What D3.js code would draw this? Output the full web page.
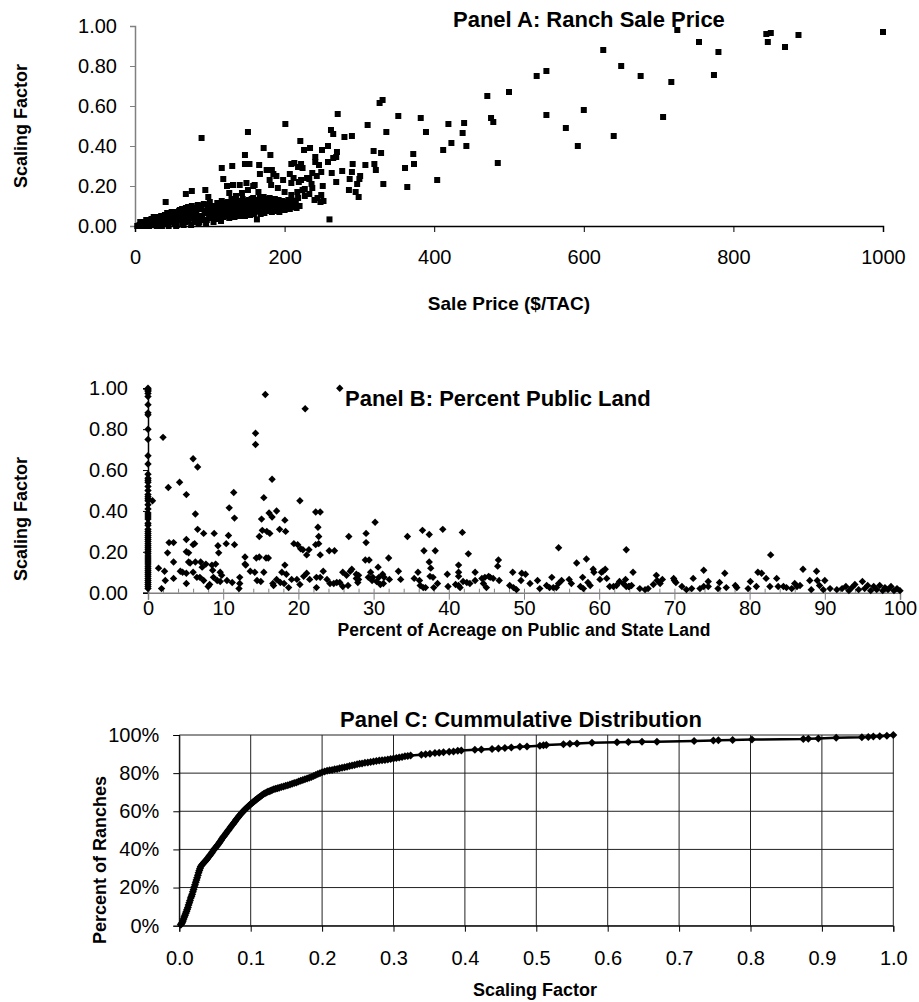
<!DOCTYPE html>
<html>
<head>
<meta charset="utf-8">
<script src="https://cdn.jsdelivr.net/npm/d3@7"></script>
<style>
  body { margin: 0; background: #fff; }
  text { font-family: "Liberation Sans", Arial, sans-serif; fill: #000; }
  .tick text { font-size: 20px; }
  .ttl { font-size: 22px; font-weight: bold; }
  .axt { font-size: 18px; font-weight: bold; }
</style>
</head>
<body>
<div id="chart"></div>
<script>

// Panel A: [sale price $/TAC, scaling factor]
var ranchSale = [
  [3,0.0],[5,0.0],[6,0.005],[8,0.01],[9,0.015],[10,0.005],[11,0.0],[12,0.02],[14,0.01],[15,0.03],[16,0.0],[17,0.01],
  [18,0.025],[19,0.0],[20,0.015],[21,0.005],[22,0.035],[23,0.025],[24,0.005],[25,0.045],[26,0.02],[28,0.04],[30,0.01],
  [32,0.03],[34,0.045],[36,0.0],[38,0.02],[40,0.055],[42,0.035],[44,0.01],[45,0.0],[46,0.06],[48,0.04],[50,0.02],
  [52,0.07],[54,0.05],[55,0.0],[56,0.005],[58,0.03],[60,0.08],[62,0.06],[64,0.015],[65,0.005],[66,0.045],[68,0.09],
  [70,0.07],[72,0.025],[74,0.055],[75,0.005],[76,0.1],[78,0.08],[80,0.035],[82,0.06],[84,0.105],[85,0.01],[86,0.02],
  [88,0.085],[90,0.045],[92,0.11],[94,0.065],[95,0.015],[96,0.03],[98,0.09],[100,0.12],[102,0.05],[104,0.075],
  [105,0.02],[106,0.1],[108,0.035],[110,0.115],[112,0.06],[114,0.085],[115,0.025],[116,0.125],[118,0.045],[120,0.1],
  [122,0.07],[124,0.12],[126,0.04],[128,0.09],[130,0.13],[132,0.055],[134,0.105],[136,0.075],[138,0.125],[140,0.05],
  [142,0.095],[144,0.135],[146,0.065],[148,0.11],[150,0.085],[152,0.13],[154,0.055],[156,0.1],[158,0.14],[160,0.07],
  [162,0.115],[164,0.09],[166,0.13],[168,0.06],[170,0.1],[172,0.145],[174,0.08],[176,0.12],[178,0.095],[180,0.14],
  [183,0.07],[186,0.115],[189,0.09],[192,0.13],[195,0.08],[198,0.11],[201,0.095],[204,0.12],[207,0.085],[210,0.11],
  [7,0.02],[13,0.005],[27,0.03],[29,0.0],[31,0.045],[33,0.015],[35,0.05],[37,0.03],[39,0.01],[41,0.04],[43,0.065],
  [47,0.025],[49,0.07],[51,0.045],[53,0.015],[57,0.06],[59,0.075],[61,0.035],[63,0.085],[67,0.02],[69,0.065],
  [71,0.095],[73,0.04],[77,0.065],[79,0.09],[81,0.02],[83,0.085],[87,0.05],[89,0.1],[91,0.03],[93,0.075],[97,0.105],
  [99,0.06],[101,0.04],[103,0.095],[107,0.065],[109,0.085],[111,0.04],[113,0.1],[117,0.07],[119,0.05],[121,0.115],
  [123,0.09],[127,0.065],[129,0.11],[131,0.08],[133,0.045],[135,0.12],[137,0.095],[139,0.06],[141,0.11],[145,0.08],
  [147,0.05],[149,0.125],[151,0.1],[153,0.07],[155,0.12],[157,0.085],[159,0.06],[161,0.13],[163,0.1],[165,0.075],
  [167,0.12],[169,0.08],[171,0.125],[173,0.065],[175,0.105],[177,0.135],[179,0.075],[181,0.11],[185,0.09],[187,0.135],
  [190,0.075],[194,0.1],[197,0.125],[200,0.08],[203,0.105],[206,0.1],[209,0.13],[213,0.1],[215,0.125],[216,0.09],
  [125,0.08],[116,0.085],[143,0.085],[152,0.08],[160,0.085],[169,0.095],[178,0.10],[188,0.11],[182,0.125],[173,0.12],
  [167,0.145],[156,0.135],[147,0.125],[139,0.12],[129,0.135],[126,0.165],[135,0.15],[143,0.165],[151,0.18],[160,0.205],
  [167,0.26],[183,0.28],[185,0.26],[180,0.23],[189,0.25],[191,0.19],[182,0.205],[198,0.23],[200,0.17],[197,0.10],
  [203,0.115],[209,0.31],[213,0.315],[218,0.295],[207,0.26],[212,0.24],[209,0.215],[219,0.22],[217,0.17],[209,0.155],
  [218,0.14],[227,0.185],[233,0.16],[240,0.13],[248,0.12],[230,0.24],[237,0.265],[246,0.305],
  [89,0.44],[151,0.47],[201,0.51],[172,0.39],[181,0.355],[147,0.355],[147,0.31],[153,0.31],[116,0.29],[130,0.30],
  [166,0.305],[176,0.28],[118,0.235],[94,0.18],[76,0.175],[68,0.16],[41,0.12],[98,0.145],[123,0.20],[131,0.205],
  [140,0.205],[149,0.215],[158,0.20],[165,0.17],[163,0.033],[193,0.07],[205,0.13],[212,0.095],
  [221,0.425],[226,0.38],[234,0.39],[222,0.31],[224,0.29],[222,0.23],[224,0.18],[227,0.15],[220,0.10],[233,0.235],
  [236,0.21],[237,0.19],[241,0.345],[241,0.32],[243,0.25],[244,0.14],[249,0.155],[250,0.38],[251,0.20],[252,0.125],
  [249,0.27],[258,0.40],[258,0.32],[260,0.033],[262,0.48],[265,0.46],[263,0.265],[265,0.34],[269,0.345],[270,0.37],
  [269,0.22],[271,0.56],[277,0.275],[280,0.445],[290,0.45],[287,0.235],[290,0.27],[291,0.31],[286,0.18],[295,0.17],
  [297,0.21],[300,0.235],[299,0.145],[301,0.25],[308,0.305],[311,0.505],[319,0.375],[320,0.31],[322,0.28],[329,0.365],
  [327,0.615],[331,0.63],[332,0.21],[336,0.47],[352,0.55],[361,0.29],[364,0.195],[372,0.36],[373,0.31],[382,0.54],
  [389,0.47],[404,0.23],
  [412,0.38],[419,0.51],[423,0.415],[438,0.465],[440,0.515],[443,0.40],[471,0.65],[476,0.54],[479,0.52],[485,0.315],
  [500,0.67],[537,0.75],[550,0.775],[550,0.555],[576,0.49],[592,0.40],[600,0.58],[626,0.88],[640,0.45],[650,0.80],
  [676,0.75],[706,0.545],[717,0.72],[725,0.98],[754,0.92],[774,0.755],[780,0.87],[844,0.96],[850,0.965],[846,0.92],
  [869,0.895],[887,0.955],[1000,0.97]
];

// Panel B: [percent public land, scaling factor]
var publicLand = [
  [0,1.0],[0,0.995],[0,0.99],[0,0.985],[0,0.975],[0,0.96],[0,0.92],[0,0.88],[0,0.87],[0,0.80],[0,0.75],[0,0.67],
  [0,0.63],[0,0.58],[0,0.56],[0,0.55],[0,0.54],[0,0.52],[0,0.50],[0,0.48],[0,0.47],[0,0.46],[0,0.45],[0,0.43],
  [0,0.41],[0,0.39],[0,0.38],[0,0.37],[0,0.36],[0,0.34],[0,0.33],[0,0.31],[0,0.30],[0,0.29],[0,0.28],[0,0.27],
  [0,0.26],[0,0.25],[0,0.24],[0,0.23],[0,0.22],[0,0.21],[0,0.20],[0,0.19],[0,0.18],[0,0.17],[0,0.16],[0,0.15],
  [0,0.14],[0,0.13],[0,0.12],[0,0.11],[0,0.10],[0,0.09],[0,0.08],[0,0.07],[0,0.06],[0,0.05],[0,0.04],[0,0.03],
  [0,0.02],[0.6,0.45],
  [2.0,0.76],[2.7,0.515],[4.2,0.54],[5.1,0.48],[6.0,0.655],[6.6,0.615],[6.3,0.385],[6.6,0.31],[7.4,0.29],[8.8,0.29],
  [10.8,0.415],[11.4,0.49],[11.5,0.365],[10.7,0.28],[11.5,0.235],[10.4,0.24],[9.3,0.23],[9.4,0.195],[14.3,0.78],
  [14.3,0.725],[15.6,0.97],[16.5,0.555],[15.4,0.465],[15.1,0.36],[16.1,0.39],[17.1,0.40],[16.5,0.37],[15.2,0.305],
  [15.8,0.30],[16.2,0.29],[14.8,0.275],[17.5,0.31],[18.2,0.355],[18.3,0.30],[20.9,0.90],[25.5,1.0],[20.2,0.45],
  [19.4,0.24],[19.9,0.235],[20.3,0.215],[20.6,0.21],[22.3,0.395],[22.9,0.395],[22.6,0.32],[22.7,0.275],[22.7,0.24],
  [22.3,0.235],[22.9,0.185],[24.1,0.205],[24.8,0.205],[26.7,0.275],[21.1,0.185],[21.4,0.21],[2.8,0.245],[3.4,0.245],
  [2.6,0.195],[3.4,0.15],[1.4,0.12],[2.2,0.105],[2.3,0.06],[1.8,0.02],[3.4,0.07],[4.3,0.105],[4.6,0.10],[5.1,0.095],
  [5.1,0.045],[5.1,0.20],[5.4,0.195],[6.0,0.235],[6.2,0.24],[5.1,0.26],[5.4,0.15],[5.6,0.145],[6.3,0.15],[7.0,0.15],
  [7.2,0.125],[6.0,0.10],[6.5,0.075],[6.9,0.075],[7.4,0.06],[8.0,0.03],[8.2,0.04],[7.7,0.14],[8.5,0.135],[9.0,0.14],
  [8.6,0.11],[9.6,0.10],[9.8,0.085],[8.7,0.075],[9.2,0.06],[9.6,0.055],[10.5,0.06],[11.2,0.05],[12.2,0.075],[12.2,0.045],
  [12.1,0.02],[12.9,0.175],[12.9,0.14],[13.0,0.135],[13.6,0.105],[14.2,0.10],[14.4,0.17],[14.8,0.175],[14.5,0.06],
  [15.0,0.055],[15.4,0.10],[15.7,0.17],[16.0,0.17],[16.6,0.045],[16.7,0.035],[17.1,0.065],[17.6,0.05],[17.8,0.10],
  [18.2,0.135],[18.4,0.09],[18.7,0.025],[18.1,0.045],[19.1,0.065],[19.8,0.065],[20.2,0.04],[20.7,0.08],[21.1,0.095],
  [21.5,0.065],[22.4,0.075],[22.9,0.075],[23.3,0.105],[22.4,0.025],[23.8,0.065],[24.2,0.045],[24.7,0.045],[25.1,0.05],
  [25.5,0.05],[25.9,0.1],[26.4,0.085],[26.9,0.105],[25.9,0.03],[26.6,0.035],[27.7,0.07],[27.9,0.05],
  [30.2,0.345],[29.0,0.29],[29.0,0.245],[28.9,0.16],[29.4,0.16],[27.1,0.115],[27.7,0.09],[28.0,0.085],[28.0,0.065],
  [29.6,0.10],[29.9,0.075],[29.3,0.075],[29.8,0.06],[30.6,0.125],[30.7,0.075],[31.2,0.09],[31.4,0.075],[31.3,0.045],
  [30.9,0.04],[30.4,0.055],[32.0,0.17],[32.1,0.065],[33.3,0.105],[33.6,0.065],[34.5,0.275],[35.4,0.07],[35.9,0.1],
  [36.1,0.06],[36.2,0.035],[36.6,0.025],[36.9,0.025],[36.5,0.305],[37.4,0.285],[36.7,0.205],[38.2,0.205],[37.4,0.15],
  [37.6,0.12],[37.5,0.08],[37.9,0.075],[38.0,0.025],[38.5,0.045],[39.2,0.31],[39.8,0.09],[39.9,0.03],[40.9,0.04],
  [41.3,0.035],[41.5,0.025],[41.8,0.295],[42.6,0.19],[41.3,0.135],[41.3,0.1],[41.3,0.08],[41.9,0.055],[42.4,0.05],
  [42.8,0.045],[43.5,0.1],[43.5,0.06],[44.4,0.07],[44.8,0.075],[45.3,0.08],[44.6,0.045],[45.0,0.025],[45.5,0.075],
  [45.9,0.07],[46.6,0.16],[46.5,0.13],[46.7,0.06],[48.5,0.10],[48.1,0.035],[48.6,0.025],[49.0,0.015],[49.7,0.095],
  [50.2,0.09],[49.6,0.06],[50.8,0.045],[51.8,0.06],[52.1,0.02],[53.0,0.035],[53.4,0.025],[53.9,0.025],[54.3,0.025],
  [53.7,0.075],[54.6,0.045],[55.0,0.06],[54.6,0.22],[56.0,0.065],[56.3,0.045],[57.0,0.145],[57.5,0.03],[57.9,0.02],
  [58.3,0.165],[57.8,0.075],[58.5,0.05],[58.8,0.035],[59.2,0.115],[59.3,0.1],[60.1,0.065],[60.3,0.10],[60.5,0.105],
  [60.8,0.115],[61.0,0.07],[61.4,0.03],[61.9,0.03],[62.3,0.035],[62.7,0.055],[63.2,0.045],[63.6,0.03],[64.0,0.03],
  [63.6,0.21],[63.5,0.065],[63.9,0.03],[64.3,0.035],[64.5,0.10],[65.4,0.02],[66.1,0.015],[66.5,0.02],[67.2,0.04],
  [67.6,0.085],[67.7,0.06],[68.1,0.045],[68.4,0.065],[69.9,0.07],[70.2,0.05],[70.0,0.06],[71.0,0.03],[71.6,0.015],
  [72.5,0.07],[72.3,0.02],[73.4,0.02],[73.9,0.03],[73.9,0.11],[74.5,0.055],[74.5,0.03],[75.8,0.02],[76.0,0.05],
  [76.9,0.025],[76.7,0.095],[78.1,0.035],[78.3,0.025],[80.1,0.055],[79.8,0.02],[80.9,0.03],[81.1,0.1],[81.6,0.095],
  [82.2,0.07],[82.7,0.03],[82.8,0.185],[83.6,0.07],[83.8,0.03],[84.5,0.03],[84.9,0.025],[85.6,0.02],[86.0,0.045],
  [86.3,0.03],[86.7,0.035],[87.1,0.115],[88.0,0.06],[88.2,0.015],[88.9,0.105],[89.0,0.06],[89.3,0.035],[90.0,0.06],
  [89.8,0.015],[90.7,0.02],[91.6,0.015],[92.3,0.02],[92.8,0.03],[93.2,0.01],[93.6,0.025],[94.0,0.04],[94.5,0.015],
  [95.0,0.055],[95.3,0.02],[95.7,0.035],[96.1,0.01],[96.5,0.03],[96.9,0.015],[97.3,0.035],[97.7,0.01],[98.0,0.025],
  [98.4,0.015],[98.8,0.03],[99.2,0.01],[99.6,0.02],[100,0.01]
];

// Panel C: [scaling factor, share of ranches]
var cumDist = [
  [0.002,0.005],[0.003,0.01],[0.004,0.015],[0.005,0.025],[0.006,0.035],[0.007,0.045],[0.008,0.055],[0.009,0.065],
  [0.010,0.075],[0.011,0.085],[0.012,0.095],[0.013,0.108],[0.014,0.12],[0.015,0.132],[0.016,0.145],[0.017,0.155],
  [0.018,0.165],[0.019,0.178],[0.020,0.19],[0.021,0.203],[0.022,0.215],[0.023,0.228],[0.024,0.24],[0.025,0.252],
  [0.026,0.265],[0.027,0.278],[0.028,0.29],[0.029,0.30],[0.030,0.31],[0.0315,0.318],[0.033,0.325],[0.0345,0.331],
  [0.036,0.337],[0.0375,0.343],[0.039,0.35],[0.0405,0.357],[0.042,0.365],[0.0435,0.372],[0.045,0.38],[0.0465,0.388],
  [0.048,0.397],[0.0495,0.403],[0.051,0.41],[0.0525,0.418],[0.054,0.425],[0.0555,0.432],[0.057,0.44],[0.0585,0.448],
  [0.060,0.457],[0.0615,0.465],[0.063,0.472],[0.0645,0.48],[0.066,0.487],[0.0675,0.495],[0.069,0.502],[0.0705,0.51],
  [0.072,0.517],[0.0735,0.525],[0.075,0.532],[0.0765,0.54],[0.078,0.547],[0.0795,0.555],[0.081,0.562],[0.0825,0.569],
  [0.084,0.576],[0.0855,0.583],[0.087,0.59],[0.0885,0.596],[0.090,0.602],[0.0915,0.608],[0.093,0.613],[0.0945,0.619],
  [0.096,0.624],[0.0975,0.629],[0.099,0.634],[0.1005,0.639],[0.102,0.644],[0.1035,0.649],[0.105,0.653],[0.1065,0.658],
  [0.108,0.662],[0.1095,0.667],[0.111,0.671],[0.1125,0.675],[0.114,0.679],[0.116,0.685],[0.118,0.69],[0.120,0.694],
  [0.122,0.698],[0.124,0.702],[0.126,0.705],[0.128,0.708],[0.130,0.711],[0.1325,0.715],[0.135,0.718],[0.1375,0.721],
  [0.140,0.724],[0.143,0.727],[0.146,0.73],[0.149,0.734],[0.152,0.737],[0.155,0.741],[0.158,0.744],[0.161,0.748],
  [0.164,0.751],[0.167,0.756],[0.170,0.76],[0.173,0.764],[0.176,0.768],[0.179,0.772],[0.182,0.776],[0.185,0.78],
  [0.188,0.785],[0.191,0.79],[0.194,0.795],[0.197,0.8],[0.200,0.805],[0.2035,0.809],[0.207,0.812],[0.2105,0.815],
  [0.214,0.817],[0.2175,0.82],[0.221,0.822],[0.2245,0.825],[0.228,0.828],[0.2315,0.831],[0.235,0.834],[0.2385,0.837],
  [0.242,0.84],[0.2455,0.843],[0.249,0.846],[0.2525,0.849],[0.256,0.851],[0.260,0.854],[0.264,0.856],[0.268,0.859],
  [0.272,0.861],[0.276,0.864],[0.280,0.866],[0.284,0.868],[0.288,0.869],[0.292,0.872],[0.296,0.874],[0.300,0.877],
  [0.304,0.879],[0.308,0.882],[0.312,0.885],[0.316,0.888],[0.320,0.89],[0.324,0.892],
  [0.339,0.897],[0.345,0.899],[0.351,0.902],[0.358,0.905],
  [0.364,0.907],[0.370,0.909],[0.378,0.912],[0.384,0.914],[0.390,0.917],[0.395,0.919],[0.414,0.923],[0.423,0.924],
  [0.438,0.927],[0.447,0.929],[0.456,0.932],[0.465,0.935],[0.477,0.938],[0.487,0.94],[0.505,0.944],[0.510,0.946],
  [0.514,0.948],[0.538,0.952],[0.547,0.954],[0.557,0.956],[0.578,0.959],[0.613,0.962],[0.629,0.963],[0.648,0.964],
  [0.669,0.965],[0.721,0.969],[0.748,0.971],[0.755,0.972],[0.775,0.974],[0.802,0.976],[0.874,0.979],[0.881,0.98],
  [0.895,0.982],[0.920,0.985],[0.956,0.988],[0.965,0.99],[0.972,0.992],[0.981,0.994],[0.991,0.996],[1.0,1.0]
];

var ticksA_x = [0, 200, 400, 600, 800, 1000];
var ticksFactor = [0, 0.2, 0.4, 0.6, 0.8, 1.0];
var ticksB_x = [0, 10, 20, 30, 40, 50, 60, 70, 80, 90, 100];
var ticksB_minor = d3.range(0, 101, 2);
var ticksC_x = [0, 0.1, 0.2, 0.3, 0.4, 0.5, 0.6, 0.7, 0.8, 0.9, 1.0];
var ticksC_y = [0, 0.2, 0.4, 0.6, 0.8, 1.0];

var svg = d3.select("#chart")
  .append("svg")
  .attr("width", 919)
  .attr("height", 1002);

function diamond(r) { return "M0," + (-r) + "L" + r + ",0L0," + r + "L" + (-r) + ",0Z"; }

// ---------- Panel A ----------
var xA = d3.scaleLinear().domain([0, 1000]).range([135, 883]);
var yA = d3.scaleLinear().domain([0, 1]).range([226, 26]);

var yAxA = svg.append("g")
  .attr("transform", "translate(135,0)")
  .call(d3.axisLeft(yA).tickValues(ticksFactor).tickFormat(d3.format(".2f")).tickSize(5).tickPadding(13));
yAxA.select(".domain").attr("stroke", "#808080").attr("stroke-width", 1.5);
yAxA.selectAll(".tick line").attr("stroke", "#808080");

var xAxA = svg.append("g")
  .attr("transform", "translate(0,226)")
  .call(d3.axisBottom(xA).tickValues(ticksA_x).tickFormat(d3.format("d")).tickSize(6).tickPadding(18));
xAxA.select(".domain").attr("stroke-width", 1.5);

svg.append("g").selectAll("rect")
  .data(ranchSale)
  .enter()
  .append("rect")
  .attr("x", function (d) { return xA(d[0]) - 3; })
  .attr("y", function (d) { return yA(d[1]) - 3; })
  .attr("width", 6)
  .attr("height", 6)
  .attr("fill", "#000");

svg.append("text").attr("class", "ttl").attr("x", 453).attr("y", 27).text("Panel A: Ranch Sale Price");
svg.append("text").attr("class", "axt").attr("x", 509).attr("y", 310).attr("text-anchor", "middle")
  .style("font-size", "19px").text("Sale Price ($/TAC)");
svg.append("text").attr("class", "axt").attr("text-anchor", "middle")
  .attr("transform", "translate(27,126) rotate(-90)").text("Scaling Factor");

// ---------- Panel B ----------
var xB = d3.scaleLinear().domain([0, 100]).range([148, 900]);
var yB = d3.scaleLinear().domain([0, 1]).range([592.7, 388.3]);

var yAxB = svg.append("g")
  .attr("transform", "translate(148,0)")
  .call(d3.axisLeft(yB).tickValues(ticksFactor).tickFormat(d3.format(".2f")).tickSize(5).tickPadding(15));
yAxB.select(".domain").attr("stroke-width", 1.5);

// minor ticks point up into the plot
svg.append("g")
  .attr("transform", "translate(0,592.7)")
  .call(d3.axisTop(xB).tickValues(ticksB_minor).tickFormat("").tickSize(4))
  .call(function (g) { g.select(".domain").remove(); })
  .selectAll(".tick line").attr("stroke", "#808080");

var xAxB = svg.append("g")
  .attr("transform", "translate(0,592.7)")
  .call(d3.axisBottom(xB).tickValues(ticksB_x).tickSize(7).tickPadding(1));
xAxB.select(".domain").attr("stroke", "#808080").attr("stroke-width", 1.5);
xAxB.selectAll(".tick line").attr("stroke", "#808080");

svg.append("g").selectAll("path")
  .data(publicLand)
  .enter()
  .append("path")
  .attr("d", diamond(3.7))
  .attr("transform", function (d) { return "translate(" + xB(d[0]) + "," + yB(d[1]) + ")"; })
  .attr("fill", "#000");

svg.append("text").attr("class", "ttl").attr("x", 345).attr("y", 406).text("Panel B: Percent Public Land");
svg.append("text").attr("class", "axt").attr("x", 524).attr("y", 636).attr("text-anchor", "middle")
  .style("font-size", "17.5px").text("Percent of Acreage on Public and State Land");
svg.append("text").attr("class", "axt").attr("text-anchor", "middle")
  .attr("transform", "translate(27,519) rotate(-90)").text("Scaling Factor");

// ---------- Panel C ----------
var xC = d3.scaleLinear().domain([0, 1]).range([179.3, 893.3]);
var yC = d3.scaleLinear().domain([0, 1]).range([925.7, 735]);

// grid
svg.append("g").selectAll("line.v")
  .data(ticksC_x)
  .enter()
  .append("line")
  .attr("x1", function (d) { return xC(d); })
  .attr("x2", function (d) { return xC(d); })
  .attr("y1", yC(0))
  .attr("y2", yC(1))
  .attr("stroke", "#222");
svg.append("g").selectAll("line.h")
  .data(ticksC_y)
  .enter()
  .append("line")
  .attr("x1", xC(0))
  .attr("x2", xC(1))
  .attr("y1", function (d) { return yC(d); })
  .attr("y2", function (d) { return yC(d); })
  .attr("stroke", "#222");

svg.append("g")
  .attr("transform", "translate(179.3,0)")
  .call(d3.axisLeft(yC).tickValues(ticksC_y).tickFormat(d3.format(".0%")).tickSize(6).tickPadding(14));

svg.append("g")
  .attr("transform", "translate(0,925.7)")
  .call(d3.axisBottom(xC).tickValues(ticksC_x).tickFormat(d3.format(".1f")).tickSize(6).tickPadding(19));

var lineC = d3.line()
  .x(function (d) { return xC(d[0]); })
  .y(function (d) { return yC(d[1]); });

svg.append("path")
  .datum(d3.sort(cumDist, function (d) { return d[0]; }))
  .attr("d", lineC)
  .attr("fill", "none")
  .attr("stroke", "#000")
  .attr("stroke-width", 2.5);

svg.append("g").selectAll("path")
  .data(cumDist)
  .enter()
  .append("path")
  .attr("d", diamond(4))
  .attr("transform", function (d) { return "translate(" + xC(d[0]) + "," + yC(d[1]) + ")"; })
  .attr("fill", "#000");

svg.append("text").attr("class", "ttl").attr("x", 340).attr("y", 727).text("Panel C: Cummulative Distribution");
svg.append("text").attr("class", "axt").attr("x", 535).attr("y", 996).attr("text-anchor", "middle").text("Scaling Factor");
svg.append("text").attr("class", "axt").attr("text-anchor", "middle")
  .attr("transform", "translate(106,860) rotate(-90)").text("Percent of Ranches");

</script>
</body>
</html>
